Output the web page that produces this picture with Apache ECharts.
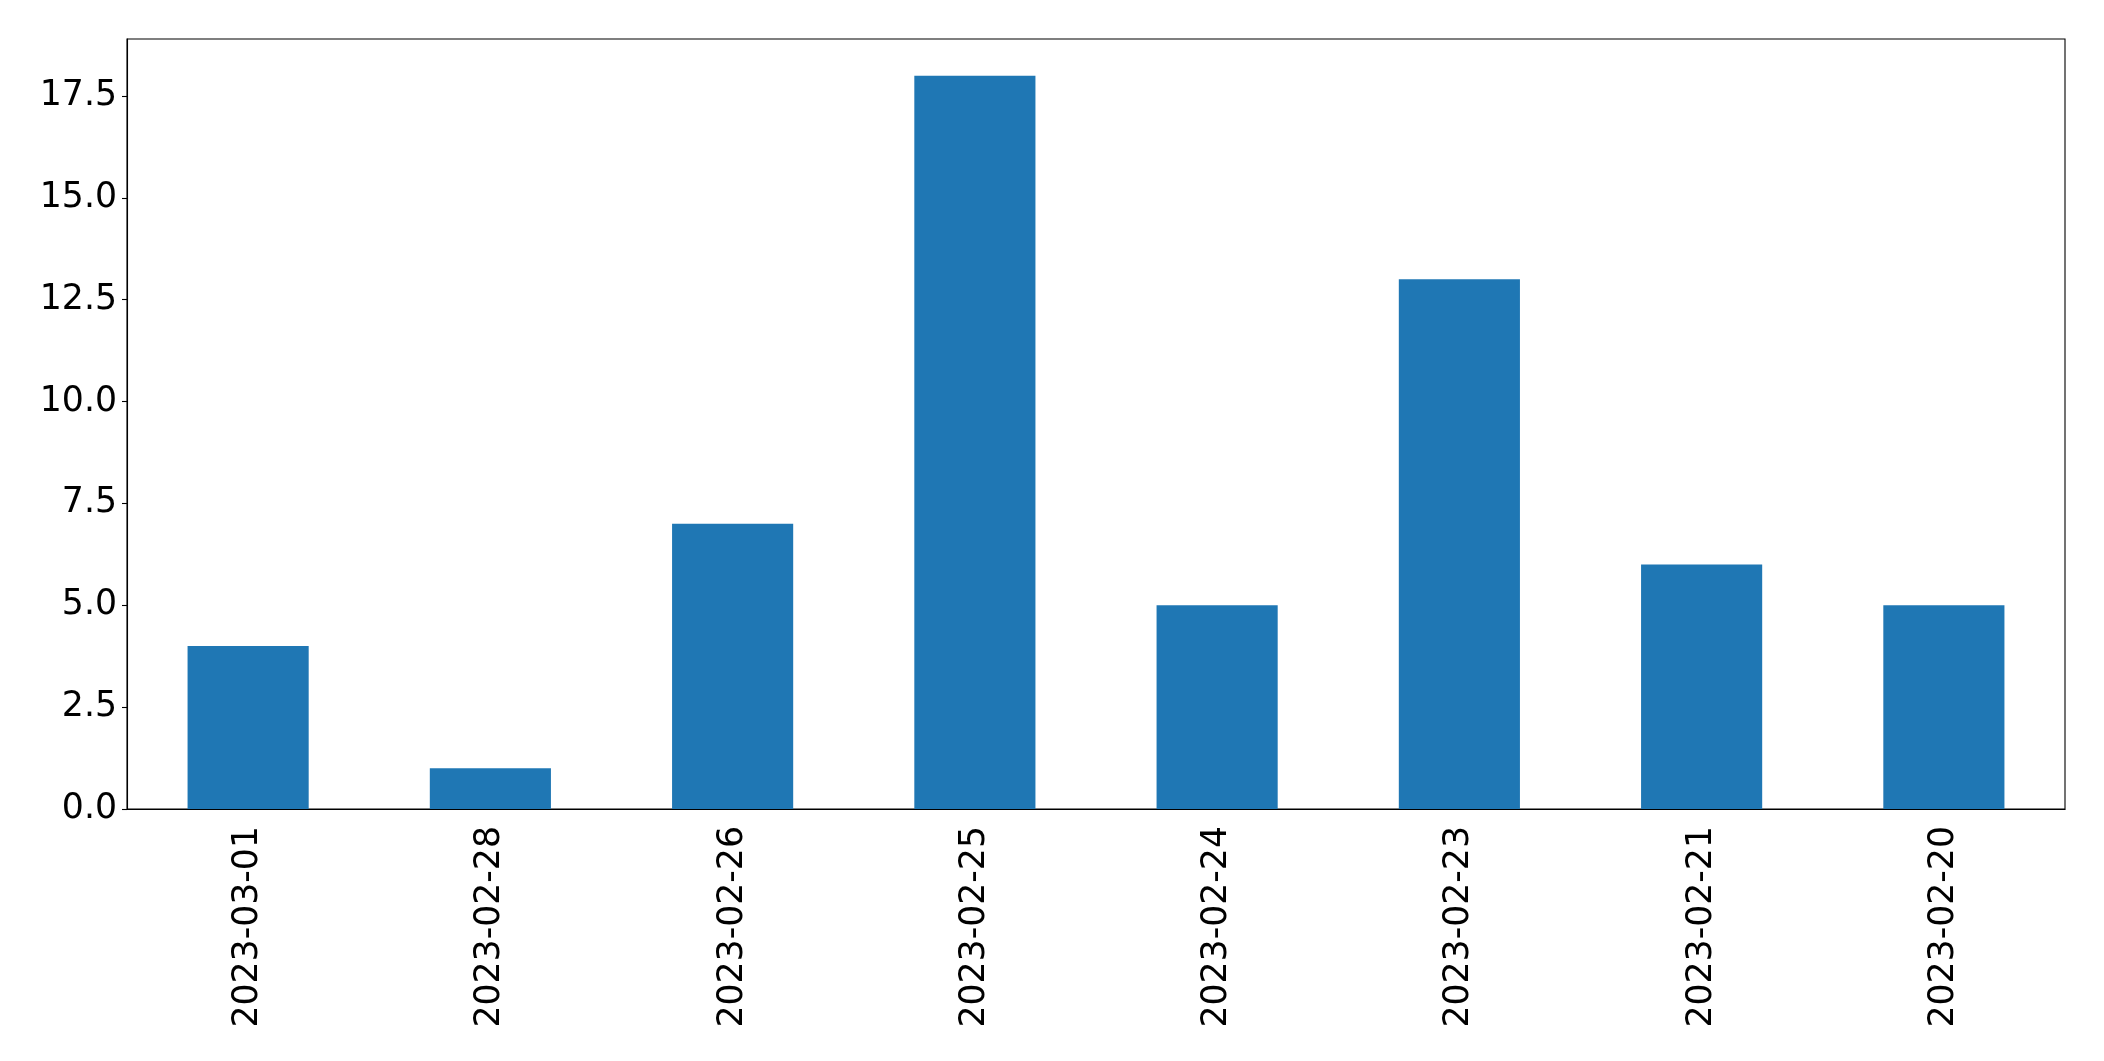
<!DOCTYPE html>
<html>
<head>
<meta charset="utf-8">
<script src="https://cdn.jsdelivr.net/npm/echarts@6/dist/echarts.min.js"></script>
<style>
html,body{margin:0;padding:0;background:#fff;}
#chart{width:2104px;height:1061px;}
</style>
</head>
<body>
<div id="chart"></div>
<script>
const categories = ['2023-03-01','2023-02-28','2023-02-26','2023-02-25','2023-02-24','2023-02-23','2023-02-21','2023-02-20'];
const counts = [4, 1, 7, 18, 5, 13, 6, 5];
const yTicks = [0, 2.5, 5, 7.5, 10, 12.5, 15, 17.5];

const chart = echarts.init(document.getElementById('chart'));
const font = 'DejaVu Sans';
chart.setOption({
  animation: false,
  grid: {left: 127, top: 39, width: 1938, height: 770, show: true, borderColor: '#000', borderWidth: 1.1, backgroundColor: 'transparent'},
  xAxis: {
    type: 'category',
    data: categories,
    boundaryGap: true,
    axisLine: {lineStyle: {color: '#000', width: 1.1}},
    axisTick: {alignWithLabel: true, length: 5, lineStyle: {color: '#000', width: 1.1}},
    axisLabel: {rotate: 90, margin: 17, color: '#000', fontFamily: font, fontSize: 34.7, interval: 0},
    splitLine: {show: false}
  },
  yAxis: {
    type: 'value',
    min: 0,
    max: 18.9,
    interval: 2.5,
    axisLine: {show: true, lineStyle: {color: '#000', width: 1.1}},
    axisTick: {show: true, length: 5, lineStyle: {color: '#000', width: 1.1}, customValues: yTicks},
    axisLabel: {margin: 10, color: '#000', fontFamily: font, fontSize: 34.7, customValues: yTicks,
      padding: [6, 0, 0, 0],
      formatter: v => v.toFixed(1)},
    splitLine: {show: false}
  },
  series: [{
    type: 'bar',
    data: counts,
    barWidth: '50%',
    itemStyle: {color: '#1f77b4'}
  }]
});
</script>
</body>
</html>
